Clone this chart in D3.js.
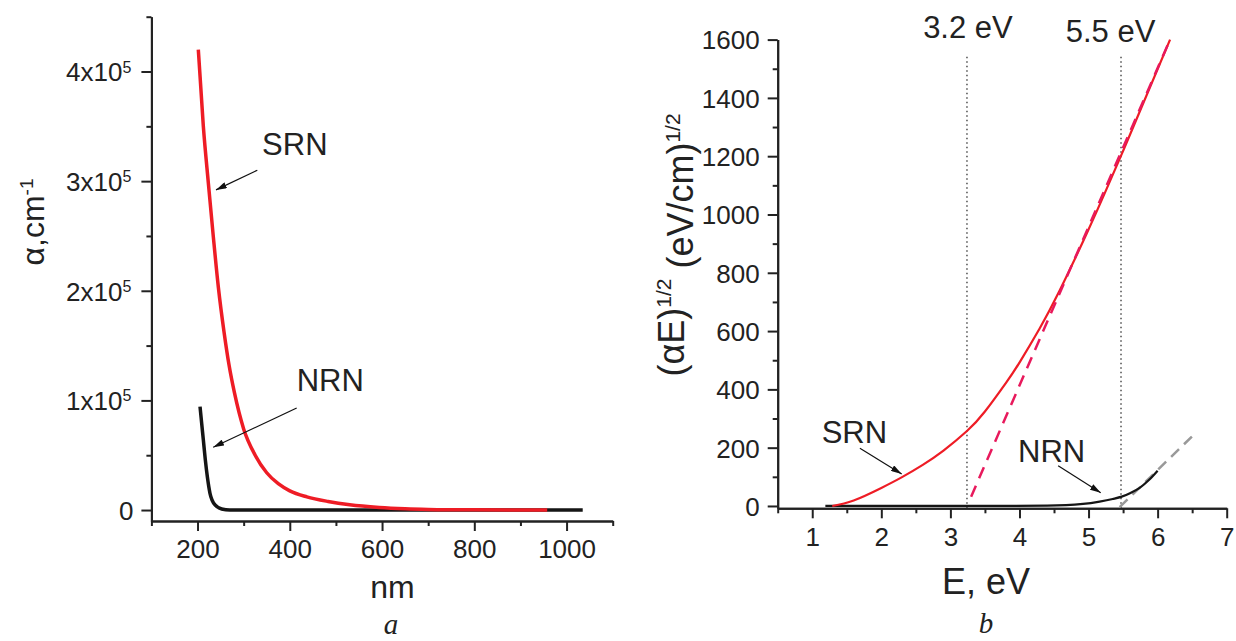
<!DOCTYPE html>
<html>
<head>
<meta charset="utf-8">
<script src="https://cdn.jsdelivr.net/npm/d3@7"></script>
<style>
  body { margin: 0; background: #fff; }
  svg { display: block; font-family: "Liberation Sans", Arial, sans-serif; }
  .tick text { fill: #222; }
</style>
</head>
<body>
<svg id="chart" width="1236" height="641"></svg>
<script>
// panel a: absorption coefficient vs wavelength
const srnWavelength = [201.7, 212.6, 223.5, 234.3, 245.2, 257.6, 268.4, 280, 300, 325, 350, 375, 400, 437, 483, 530, 594, 650, 700, 800, 958];
const srnAlpha = [420000, 350000, 298000, 249000, 203000, 162000, 132000, 107000, 74000, 50000, 34000, 24000, 17500, 12000, 7800, 4800, 2400, 1200, 600, 150, 0];
const nrnWavelength = [205.4, 209, 212.6, 216.9, 221.2, 227, 237.9, 252.4, 270, 1035];
const nrnAlpha = [94300, 79000, 64000, 45700, 30500, 15300, 4700, 1000, 0, 0];

// panel b: Tauc plot (alpha*E)^1/2 vs E
const srnEnergy = [1.29, 1.6, 2.0, 2.3, 2.6, 2.9, 3.24, 3.5, 3.81, 4.0, 4.29, 4.58, 4.97, 5.26, 5.48, 5.65, 6.18];
const srnTauc = [0, 19, 62, 99, 141, 190, 257, 324, 424, 492, 608, 738, 933, 1087, 1207, 1302, 1600];
const nrnEnergy = [1.19, 3.5, 4.4, 4.92, 5.16, 5.35, 5.48, 5.6, 5.74, 5.87, 6.0];
const nrnTauc = [0, 0, 1, 7, 15, 24, 32, 44, 62, 88, 121];
const srnFitE = [3.30, 6.18];
const srnFitV = [32, 1600];
const nrnFitE = [5.45, 6.53];
const nrnFitV = [-4, 246];
const gapEnergy = [3.24, 5.47];
const gapLabels = ["3.2 eV", "5.5 eV"];

// ticks
const wavelengthTicks = [200, 400, 600, 800, 1000];
const wavelengthMinor = [100, 300, 500, 700, 900, 1100];
const alphaTicks = [0, 100000, 200000, 300000, 400000];
const alphaMinor = [50000, 150000, 250000, 350000, 450000];
const energyTicks = [1, 2, 3, 4, 5, 6, 7];
const energyMinor = [0.5, 1.5, 2.5, 3.5, 4.5, 5.5, 6.5];
const taucTicks = [0, 200, 400, 600, 800, 1000, 1200, 1400, 1600];
const taucMinor = [100, 300, 500, 700, 900, 1100, 1300, 1500];

const svg = d3.select("#chart");

svg.append("defs").append("marker")
    .attr("id", "arrow")
    .attr("viewBox", "0 0 10 6")
    .attr("refX", 10).attr("refY", 3)
    .attr("markerWidth", 11).attr("markerHeight", 6.5)
    .attr("markerUnits", "userSpaceOnUse")
    .attr("orient", "auto")
    .append("path").attr("d", "M0,0L10,3L0,6Z").attr("fill", "#111");

function drawAxes(x, y, xT, xM, yT, yM, yFmt) {
    const y0 = y.range()[0], x0 = x.range()[0];
    const styleAxis = g => {
        g.select(".domain").attr("stroke", "#222").attr("stroke-width", 2);
        g.selectAll(".tick line").attr("stroke", "#222").attr("stroke-width", 2);
    };
    svg.append("g").attr("transform", `translate(0,${y0})`)
        .call(d3.axisBottom(x).tickValues(xM).tickSize(5).tickSizeOuter(0).tickFormat(""))
        .call(styleAxis);
    svg.append("g").attr("transform", `translate(0,${y0})`)
        .call(d3.axisBottom(x).tickValues(xT).tickSize(10).tickSizeOuter(0).tickPadding(8).tickFormat(d3.format("d")))
        .call(styleAxis)
        .call(g => g.selectAll("text").attr("font-size", 26).attr("dy", "0.74em"));
    svg.append("g").attr("transform", `translate(${x0},0)`)
        .call(d3.axisLeft(y).tickValues(yM).tickSize(5).tickSizeOuter(0).tickFormat(""))
        .call(styleAxis);
    const ya = svg.append("g").attr("transform", `translate(${x0},0)`)
        .call(d3.axisLeft(y).tickValues(yT).tickSize(10).tickSizeOuter(0).tickPadding(8).tickFormat(d3.format("d")))
        .call(styleAxis);
    ya.selectAll("text").attr("font-size", 26).attr("dy", "0.36em");
    if (yFmt) ya.selectAll("text").each(yFmt);
}

// ---------- panel a ----------
const xa = d3.scaleLinear().domain([100, 1100]).range([151.4, 612.7]);
const ya = d3.scaleLinear().domain([-10000, 450000]).range([521, 16.7]);

drawAxes(xa, ya, wavelengthTicks, wavelengthMinor, alphaTicks, alphaMinor, function(d) {
    const t = d3.select(this);
    if (d === 0) return;
    t.text("");
    t.append("tspan").text(`${d / 1e5}x10`);
    t.append("tspan").attr("dy", "-0.55em").attr("font-size", 16).text("5");
    // right-align the whole label (base + superscript) to the tick
    const len = this.getComputedTextLength();
    t.attr("text-anchor", "start").attr("x", -20 - len);
});

const lineA = d3.line().x(d => xa(d[0])).y(d => ya(d[1])).curve(d3.curveMonotoneX);
svg.append("path").datum(d3.zip(nrnWavelength, nrnAlpha))
    .attr("d", lineA).attr("fill", "none").attr("stroke", "#151515").attr("stroke-width", 3.5);
svg.append("path").datum(d3.zip(srnWavelength, srnAlpha))
    .attr("d", lineA).attr("fill", "none").attr("stroke", "#ee1c25").attr("stroke-width", 3.5);

svg.append("text").attr("x", xa(340)).attr("y", ya(324000)).attr("font-size", 31).attr("fill", "#222").text("SRN");
svg.append("line").attr("x1", xa(329.6)).attr("y1", ya(310000)).attr("x2", xa(240)).attr("y2", ya(292000))
    .attr("stroke", "#111").attr("stroke-width", 1.2).attr("marker-end", "url(#arrow)");
svg.append("text").attr("x", xa(415)).attr("y", ya(108500)).attr("font-size", 31).attr("fill", "#222").text("NRN");
svg.append("line").attr("x1", xa(415)).attr("y1", ya(93000)).attr("x2", xa(234)).attr("y2", ya(57300))
    .attr("stroke", "#111").attr("stroke-width", 1.2).attr("marker-end", "url(#arrow)");

svg.append("text").attr("x", 392.5).attr("y", 598).attr("text-anchor", "middle")
    .attr("font-size", 32).attr("fill", "#222").text("nm");
const tA = svg.append("text").attr("transform", "translate(44,222) rotate(-90)")
    .attr("text-anchor", "middle").attr("font-size", 32).attr("fill", "#222");
tA.append("tspan").text("α,cm");
tA.append("tspan").attr("dy", "-0.6em").attr("font-size", 19).text("-1");
svg.append("text").attr("x", 391).attr("y", 634).attr("text-anchor", "middle")
    .attr("font-family", "'Liberation Serif', 'Times New Roman', serif").attr("font-style", "italic")
    .attr("font-size", 29).attr("fill", "#222").text("a");

// ---------- panel b ----------
const xb = d3.scaleLinear().domain([0.5, 7]).range([777.7, 1226.7]);
const yb = d3.scaleLinear().domain([-8, 1600]).range([508.3, 39.6]);

drawAxes(xb, yb, energyTicks, energyMinor, taucTicks, taucMinor, null);

// band gap markers
svg.append("g").selectAll("line").data(gapEnergy).join("line")
    .attr("x1", d => xb(d)).attr("x2", d => xb(d))
    .attr("y1", yb(-8)).attr("y2", yb(1545))
    .attr("stroke", "#333").attr("stroke-width", 1.3).attr("stroke-dasharray", "1.5,3");
svg.append("g").selectAll("text").data(gapLabels).join("text")
    .attr("x", (d, i) => xb([3.254, 5.319][i])).attr("y", (d, i) => yb([1605, 1593][i]))
    .attr("text-anchor", "middle").attr("font-size", 31).attr("fill", "#222").text(d => d);

const lineB = d3.line().x(d => xb(d[0])).y(d => yb(d[1])).curve(d3.curveMonotoneX);
const smoothB = d3.line().x(d => xb(d[0])).y(d => yb(d[1])).curve(d3.curveNatural);
svg.append("path").datum(d3.zip(nrnFitE, nrnFitV))
    .attr("d", lineB).attr("fill", "none").attr("stroke", "#999").attr("stroke-width", 2.5)
    .attr("stroke-dasharray", "11,7");
svg.append("path").datum(d3.zip(nrnEnergy, nrnTauc))
    .attr("d", lineB).attr("fill", "none").attr("stroke", "#151515").attr("stroke-width", 2.2);
svg.append("path").datum(d3.zip(srnEnergy, srnTauc))
    .attr("d", smoothB).attr("fill", "none").attr("stroke", "#ee1c25").attr("stroke-width", 2.2);
svg.append("path").datum(d3.zip(srnFitE, srnFitV))
    .attr("d", lineB).attr("fill", "none").attr("stroke", "#e8195c").attr("stroke-width", 2.5)
    .attr("stroke-dasharray", "12,8");

svg.append("text").attr("x", xb(1.137)).attr("y", yb(215)).attr("font-size", 31).attr("fill", "#222").text("SRN");
svg.append("line").attr("x1", xb(1.69)).attr("y1", yb(198)).attr("x2", xb(2.295)).attr("y2", yb(110))
    .attr("stroke", "#111").attr("stroke-width", 1.2).attr("marker-end", "url(#arrow)");
svg.append("text").attr("x", xb(3.98)).attr("y", yb(151)).attr("font-size", 31).attr("fill", "#222").text("NRN");
svg.append("line").attr("x1", xb(4.56)).attr("y1", yb(138)).attr("x2", xb(5.176)).attr("y2", yb(45))
    .attr("stroke", "#111").attr("stroke-width", 1.2).attr("marker-end", "url(#arrow)");

svg.append("text").attr("x", 986).attr("y", 594).attr("text-anchor", "middle")
    .attr("font-size", 36).attr("fill", "#222").text("E, eV");
const tB = svg.append("text").attr("transform", "translate(684,245) rotate(-90)")
    .attr("text-anchor", "middle").attr("font-size", 36).attr("fill", "#222");
tB.append("tspan").text("(αE)");
tB.append("tspan").attr("dy", "-0.6em").attr("font-size", 21).text("1/2");
tB.append("tspan").attr("dy", "0.6em").text(" (eV/cm)");
tB.append("tspan").attr("dy", "-0.6em").attr("font-size", 21).text("1/2");
svg.append("text").attr("x", 986).attr("y", 633).attr("text-anchor", "middle")
    .attr("font-family", "'Liberation Serif', 'Times New Roman', serif").attr("font-style", "italic")
    .attr("font-size", 29).attr("fill", "#222").text("b");
</script>
</body>
</html>
